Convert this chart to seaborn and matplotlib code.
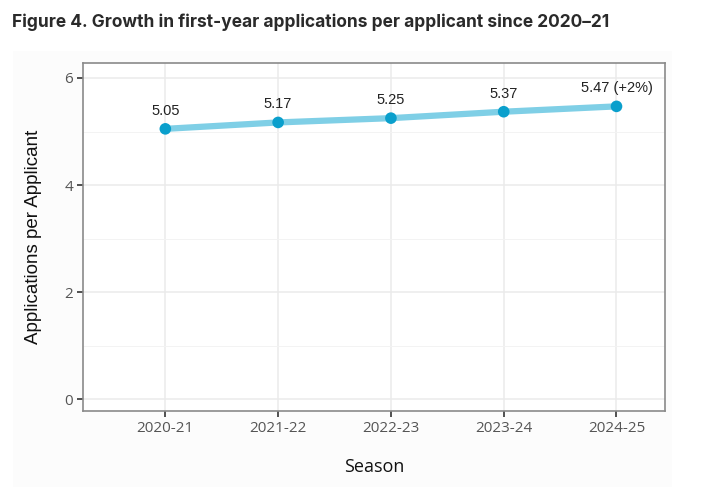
import numpy as np
import pandas as pd
import matplotlib
matplotlib.use('Agg')
import matplotlib.pyplot as plt
import seaborn as sns
from matplotlib.patches import Rectangle

seasons = ['2020-21', '2021-22', '2022-23', '2023-24', '2024-25']
apps_per_applicant = [5.05, 5.17, 5.25, 5.37, 5.47]
point_labels = ['5.05', '5.17', '5.25', '5.37', '5.47 (+2%)']

df = pd.DataFrame({'Season': seasons, 'Value': apps_per_applicant})

sns.set_theme(style='white')
plt.rcParams['font.family'] = ['Liberation Sans', 'DejaVu Sans']

fig = plt.figure(figsize=(7.05, 4.99), dpi=100)
fig.patch.set_facecolor('white')
# faint panel behind the plot, like the screenshot
bg = Rectangle((13 / 705, 1 - 487 / 499), (672 - 13) / 705, (487 - 51) / 499,
               transform=fig.transFigure, facecolor='#fcfcfc', edgecolor='none', zorder=-5)
fig.patches.append(bg)

ax = fig.add_axes([83 / 705, 1 - 411 / 499, (665 - 83) / 705, (411 - 63) / 499])
ax.set_zorder(2)
ax.set_facecolor('white')

x = np.arange(len(seasons))
sns.lineplot(x=x, y=df['Value'], ax=ax, color='#7fcfe6', linewidth=4.5, zorder=3)
sns.scatterplot(x=x, y=df['Value'], ax=ax, color='#0a9fcc', s=70, edgecolor='none', zorder=4)

for xi, v, lab in zip(x, apps_per_applicant, point_labels):
    ax.annotate(lab, (xi, v), xytext=(0, 8), textcoords='offset points',
                ha='center', va='bottom', fontsize=10.5, color='#222222')

ax.set_xlim(-0.73, 4.43)
ax.set_ylim(-0.22, 6.28)
ax.set_xticks(x)
ax.set_xticklabels(seasons)
ax.set_yticks([0, 2, 4, 6])
ax.set_yticks([1, 3, 5], minor=True)

ax.grid(which='major', color='#ebebeb', linewidth=1.1, zorder=0)
ax.grid(which='minor', axis='y', color='#f3f3f3', linewidth=0.7, zorder=0)
ax.set_axisbelow(True)

for s in ax.spines.values():
    s.set_color('#8a8a8a')
    s.set_linewidth(1.2)

ax.tick_params(axis='both', which='major', bottom=True, left=True, length=4, width=1.2,
               color='#333333', labelsize=11, labelcolor='#555555', pad=3)
ax.tick_params(axis='both', which='minor', length=0)
for t in ax.get_xticklabels() + ax.get_yticklabels():
    t.set_family(['Open Sans', 'DejaVu Sans'])

ax.set_xlabel('Season', fontsize=13, color='#111111', labelpad=16, family=['Open Sans', 'DejaVu Sans'])
ax.set_ylabel('Applications per Applicant', fontsize=13.5, color='#111111', labelpad=16)

fig.text(12 / 705, 1 - 22 / 499, 'Figure 4. Growth in first-year applications per applicant since 2020\u201321',
         fontsize=12.5, fontweight='bold', color='#2a2a2a', va='center', ha='left',
         family=['Inter', 'DejaVu Sans'])

fig.savefig('out.png', dpi=100)
